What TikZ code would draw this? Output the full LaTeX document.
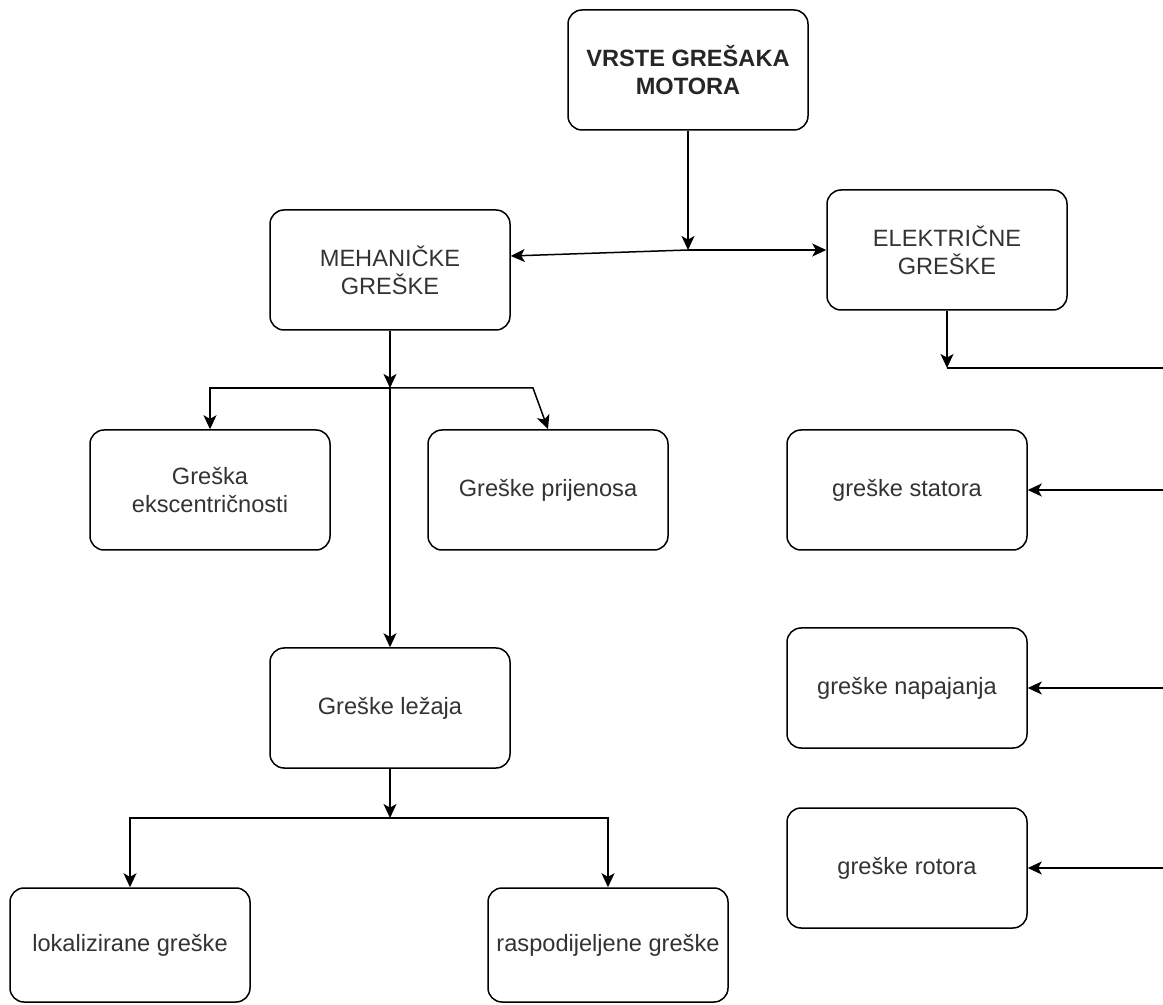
\documentclass[tikz,border=0pt]{standalone}
\usepackage{fontspec}
\setmainfont{Liberation Sans}
\usepackage{tikz}
\usetikzlibrary{arrows.meta, calc}

\tikzset{
    box/.style={draw, rounded corners=7pt, line width=0.75pt, minimum width=120pt,
        minimum height=60pt, align=center, inner sep=1pt, text=black!80,
        font=\fontsize{11.8}{14}\selectfont},
    link/.style={-{Stealth[length=7pt, width=6.5pt, inset=1.8pt]}, line width=0.75pt},
    wire/.style={line width=0.75pt}
}

\begin{document}
\begin{tikzpicture}[x=0.5pt, y=-0.5pt]
    \useasboundingbox (0,0) rectangle (1163,1005);

    % Root
    \node[box, font=\fontsize{11.8}{14}\selectfont\bfseries, text=black!85] (top) at (688,70) {VRSTE GREŠAKA\\MOTORA};

    % Main branches
    \node[box] (meh) at (390,270) {MEHANIČKE\\GREŠKE};
    \node[box] (elek) at (947,250) {ELEKTRIČNE\\GREŠKE};

    % Mechanical faults
    \node[box] (ekscen) at (210,490) {Greška\\ekscentričnosti};
    \node[box] (prijen) at (548,490) {Greške prijenosa};
    \node[box] (lezaj) at (390,708) {Greške ležaja};
    \node[box, minimum height=57pt] (lokal) at (130,945) {lokalizirane greške};
    \node[box, minimum height=57pt] (raspod) at (608,945) {raspodijeljene greške};

    % Electrical faults
    \node[box] (stator) at (907,490) {greške statora};
    \node[box] (napaj) at (907,688) {greške napajanja};
    \node[box] (rotor) at (907,868) {greške rotora};

    % Junction points
    \coordinate (j1) at (688,250);
    \coordinate (j2) at (390,388);
    \coordinate (j3) at (533,388);
    \coordinate (j4) at (390,818);
    \coordinate (j5) at (947,368);
    \coordinate (e1) at (1163,368);
    \coordinate (e2) at (1163,490);
    \coordinate (e3) at (1163,688);
    \coordinate (e4) at (1163,868);

    % Connectors
    \draw[link] (top.south) -- (j1);
    \draw[link] (j1) -- ([yshift=7pt]meh.east);
    \draw[link] (j1) -- (elek.west);

    \draw[link] (meh.south) -- (j2);
    \draw[link] (j2) -| (ekscen.north);
    \draw[link] (j2) -- (j3) -- (prijen.north);
    \draw[link] (j2) -- (lezaj.north);

    \draw[link] (lezaj.south) -- (j4);
    \draw[link] (j4) -| (lokal.north);
    \draw[link] (j4) -| (raspod.north);

    \draw[link] (elek.south) -- (j5);
    \draw[wire] (j5) -- (e1);
    \draw[link] (e2) -- (stator.east);
    \draw[link] (e3) -- (napaj.east);
    \draw[link] (e4) -- (rotor.east);
\end{tikzpicture}
\end{document}
